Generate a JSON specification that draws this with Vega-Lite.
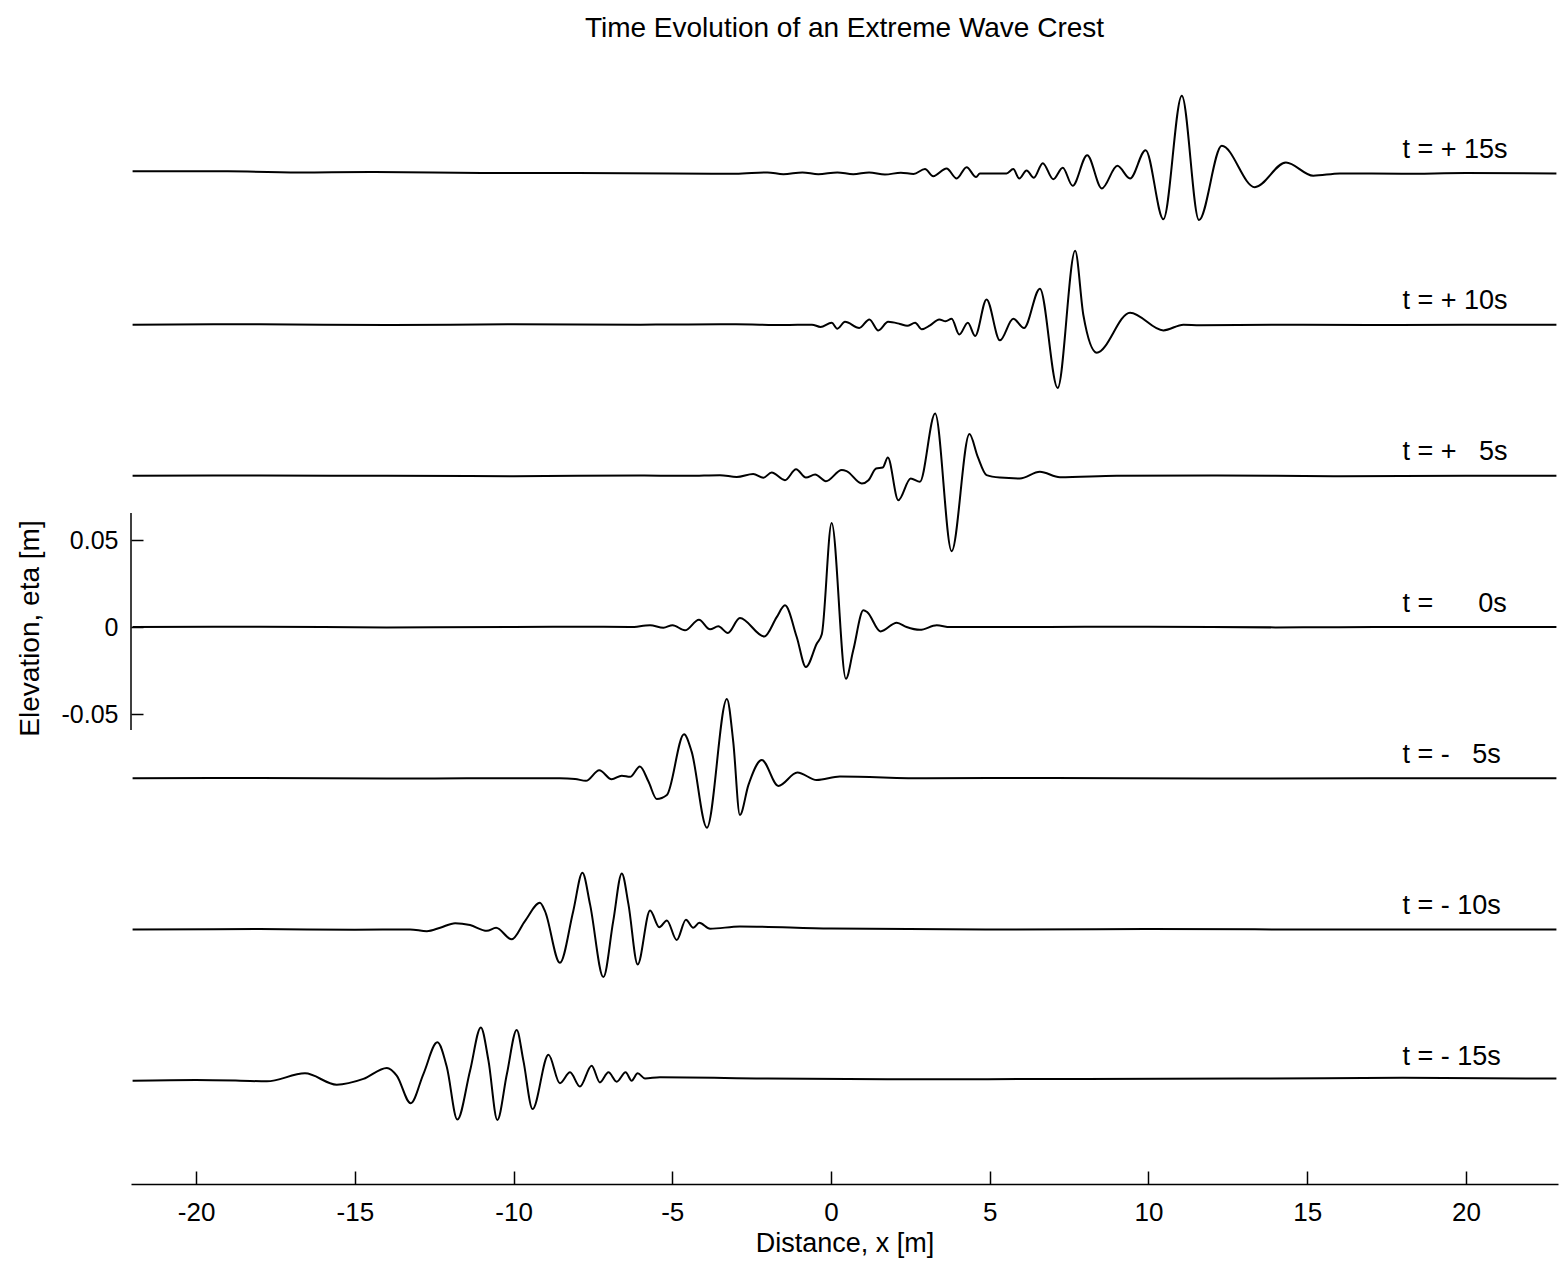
{
  "$schema": "https://vega.github.io/schema/vega-lite/v6.json",
  "width": 1427,
  "height": 1124,
  "autosize": {"type": "none"},
  "padding": {"left": 131, "top": 60, "right": 6, "bottom": 79},
  "background": "white",
  "title": {"text": "Time Evolution of an Extreme Wave Crest", "font": "Liberation Sans", "fontSize": 28, "fontWeight": "normal", "color": "black", "anchor": "middle", "offset": 17},
  "config": {"view": {"stroke": null}, "font": "Liberation Sans"},
  "datasets": {
    "waves": [
      {"t":15,"x":-22.0,"eta":0.0012},{"t":15,"x":-19.0,"eta":0.0012},{"t":15,"x":-16.5,"eta":0.0006},{"t":15,"x":-14.5,"eta":0.0008},{"t":15,"x":-11.0,"eta":0.0003},{"t":15,"x":-8.0,"eta":0.0002},{"t":15,"x":-5.0,"eta":0.0},{"t":15,"x":-3.0,"eta":-0.0002},{"t":15,"x":-2.0,"eta":0.0006},{"t":15,"x":-1.5,"eta":-0.0004},{"t":15,"x":-0.9,"eta":0.0006},{"t":15,"x":-0.4,"eta":-0.0004},{"t":15,"x":0.2,"eta":0.0006},{"t":15,"x":0.7,"eta":-0.0005},{"t":15,"x":1.2,"eta":0.0006},{"t":15,"x":1.7,"eta":-0.0006},{"t":15,"x":2.2,"eta":0.0004},{"t":15,"x":2.6,"eta":-0.0003},
      {"t":15,"x":2.96,"eta":0.0025},{"t":15,"x":3.22,"eta":-0.0016},{"t":15,"x":3.64,"eta":0.0029},{"t":15,"x":3.96,"eta":-0.0029},{"t":15,"x":4.27,"eta":0.0036},{"t":15,"x":4.57,"eta":-0.0021},{"t":15,"x":4.69,"eta":0.0},{"t":15,"x":5.53,"eta":0.0},{"t":15,"x":5.74,"eta":0.0025},{"t":15,"x":5.93,"eta":-0.0029},{"t":15,"x":6.16,"eta":0.0017},{"t":15,"x":6.39,"eta":-0.0025},{"t":15,"x":6.67,"eta":0.0059},{"t":15,"x":7.0,"eta":-0.0033},{"t":15,"x":7.3,"eta":0.0033},{"t":15,"x":7.61,"eta":-0.0071},{"t":15,"x":8.07,"eta":0.0105},{"t":15,"x":8.53,"eta":-0.0086},{"t":15,"x":9.02,"eta":0.0044},{"t":15,"x":9.42,"eta":-0.0029},{"t":15,"x":9.91,"eta":0.0134},{"t":15,"x":10.47,"eta":-0.0263},{"t":15,"x":11.05,"eta":0.0447},{"t":15,"x":11.59,"eta":-0.0268},{"t":15,"x":12.31,"eta":0.0159},{"t":15,"x":13.35,"eta":-0.0079},{"t":15,"x":14.33,"eta":0.0063},{"t":15,"x":15.19,"eta":-0.0013},{"t":15,"x":16.03,"eta":0.0},{"t":15,"x":18.0,"eta":-0.0002},{"t":15,"x":20.0,"eta":0.0002},{"t":15,"x":22.85,"eta":0.0},

      {"t":10,"x":-22.0,"eta":0.0},{"t":10,"x":-18.0,"eta":0.0002},{"t":10,"x":-14.0,"eta":-0.0002},{"t":10,"x":-10.0,"eta":0.0002},{"t":10,"x":-6.0,"eta":0.0},{"t":10,"x":-3.0,"eta":0.0002},{"t":10,"x":-1.5,"eta":-0.0002},{"t":10,"x":-0.6,"eta":0.0},{"t":10,"x":-0.33,"eta":-0.0013},{"t":10,"x":0.02,"eta":0.0011},{"t":10,"x":0.2,"eta":-0.0023},{"t":10,"x":0.44,"eta":0.0016},{"t":10,"x":0.89,"eta":-0.0019},{"t":10,"x":1.21,"eta":0.003},{"t":10,"x":1.49,"eta":-0.0033},{"t":10,"x":1.8,"eta":0.0016},{"t":10,"x":2.17,"eta":0.0004},{"t":10,"x":2.4,"eta":-0.0007},{"t":10,"x":2.65,"eta":0.0011},{"t":10,"x":2.86,"eta":-0.0027},{"t":10,"x":3.12,"eta":-0.0004},{"t":10,"x":3.41,"eta":0.003},{"t":10,"x":3.61,"eta":0.0019},{"t":10,"x":3.8,"eta":0.0034},{"t":10,"x":4.04,"eta":-0.0057},{"t":10,"x":4.31,"eta":0.0011},{"t":10,"x":4.54,"eta":-0.0065},{"t":10,"x":4.9,"eta":0.0145},{"t":10,"x":5.32,"eta":-0.009},{"t":10,"x":5.74,"eta":0.0034},{"t":10,"x":6.08,"eta":-0.0019},{"t":10,"x":6.58,"eta":0.0207},{"t":10,"x":7.14,"eta":-0.0364},{"t":10,"x":7.69,"eta":0.0424},{"t":10,"x":7.95,"eta":0.0054},{"t":10,"x":8.37,"eta":-0.0161},{"t":10,"x":9.42,"eta":0.0069},{"t":10,"x":10.47,"eta":-0.0033},{"t":10,"x":11.1,"eta":0.0},{"t":10,"x":11.62,"eta":-0.0004},{"t":10,"x":14.0,"eta":0.0},{"t":10,"x":17.0,"eta":-0.0002},{"t":10,"x":20.0,"eta":0.0},{"t":10,"x":22.85,"eta":0.0},

      {"t":5,"x":-22.0,"eta":0.0},{"t":5,"x":-18.0,"eta":0.0002},{"t":5,"x":-14.0,"eta":0.0},{"t":5,"x":-10.0,"eta":-0.0002},{"t":5,"x":-6.0,"eta":0.0002},{"t":5,"x":-4.5,"eta":0.0},{"t":5,"x":-3.5,"eta":0.0004},{"t":5,"x":-2.97,"eta":-0.0006},{"t":5,"x":-2.45,"eta":0.0011},{"t":5,"x":-2.13,"eta":-0.0011},{"t":5,"x":-1.87,"eta":0.0019},{"t":5,"x":-1.45,"eta":-0.0025},{"t":5,"x":-1.1,"eta":0.0038},{"t":5,"x":-0.79,"eta":-0.001},{"t":5,"x":-0.5,"eta":0.0008},{"t":5,"x":-0.16,"eta":-0.0031},{"t":5,"x":0.34,"eta":0.0033},{"t":5,"x":0.49,"eta":0.0027},{"t":5,"x":0.97,"eta":-0.0044},{"t":5,"x":1.18,"eta":-0.0025},{"t":5,"x":1.42,"eta":0.0042},{"t":5,"x":1.63,"eta":0.0048},{"t":5,"x":1.79,"eta":0.0105},{"t":5,"x":2.12,"eta":-0.014},{"t":5,"x":2.51,"eta":-0.0015},{"t":5,"x":2.8,"eta":-0.0034},{"t":5,"x":3.28,"eta":0.0358},{"t":5,"x":3.8,"eta":-0.0433},{"t":5,"x":4.36,"eta":0.024},{"t":5,"x":4.62,"eta":0.011},{"t":5,"x":4.9,"eta":0.0004},{"t":5,"x":5.32,"eta":-0.001},{"t":5,"x":5.95,"eta":-0.0015},{"t":5,"x":6.58,"eta":0.0023},{"t":5,"x":7.21,"eta":-0.0008},{"t":5,"x":9.0,"eta":0.0},{"t":5,"x":12.0,"eta":0.0002},{"t":5,"x":16.0,"eta":-0.0002},{"t":5,"x":20.0,"eta":0.0},{"t":5,"x":22.85,"eta":0.0},

      {"t":0,"x":-22.0,"eta":0.0},{"t":0,"x":-18.0,"eta":0.0002},{"t":0,"x":-14.0,"eta":-0.0002},{"t":0,"x":-10.0,"eta":0.0},{"t":0,"x":-8.0,"eta":0.0002},{"t":0,"x":-6.33,"eta":0.0},{"t":0,"x":-5.7,"eta":0.001},{"t":0,"x":-5.28,"eta":-0.0004},{"t":0,"x":-4.99,"eta":0.0011},{"t":0,"x":-4.6,"eta":-0.0019},{"t":0,"x":-4.16,"eta":0.0042},{"t":0,"x":-3.81,"eta":-0.0013},{"t":0,"x":-3.55,"eta":0.0004},{"t":0,"x":-3.25,"eta":-0.0034},{"t":0,"x":-2.87,"eta":0.0052},{"t":0,"x":-2.1,"eta":-0.0054},{"t":0,"x":-1.71,"eta":0.0057},{"t":0,"x":-1.45,"eta":0.0125},{"t":0,"x":-1.08,"eta":-0.0057},{"t":0,"x":-0.79,"eta":-0.023},{"t":0,"x":-0.45,"eta":-0.0096},{"t":0,"x":-0.29,"eta":-0.0042},{"t":0,"x":0.02,"eta":0.0598},{"t":0,"x":0.47,"eta":-0.0297},{"t":0,"x":0.7,"eta":-0.0134},{"t":0,"x":1.02,"eta":0.0096},{"t":0,"x":1.14,"eta":0.0086},{"t":0,"x":1.56,"eta":-0.0025},{"t":0,"x":2.07,"eta":0.0025},{"t":0,"x":2.38,"eta":0.0},{"t":0,"x":2.8,"eta":-0.0016},{"t":0,"x":3.33,"eta":0.001},{"t":0,"x":3.75,"eta":0.0},{"t":0,"x":6.0,"eta":0.0},{"t":0,"x":10.0,"eta":0.0002},{"t":0,"x":14.0,"eta":-0.0002},{"t":0,"x":18.0,"eta":0.0},{"t":0,"x":22.85,"eta":0.0},

      {"t":-5,"x":-22.0,"eta":0.0},{"t":-5,"x":-18.0,"eta":0.0002},{"t":-5,"x":-14.0,"eta":-0.0002},{"t":-5,"x":-11.0,"eta":0.0},{"t":-5,"x":-8.54,"eta":0.0},{"t":-5,"x":-8.06,"eta":-0.0004},{"t":-5,"x":-7.72,"eta":-0.0015},{"t":-5,"x":-7.3,"eta":0.0046},{"t":-5,"x":-6.91,"eta":-0.0006},{"t":-5,"x":-6.59,"eta":0.0015},{"t":-5,"x":-6.33,"eta":0.0008},{"t":-5,"x":-6.02,"eta":0.0067},{"t":-5,"x":-5.75,"eta":-0.0019},{"t":-5,"x":-5.49,"eta":-0.0119},{"t":-5,"x":-5.17,"eta":-0.0096},{"t":-5,"x":-4.63,"eta":0.0253},{"t":-5,"x":-4.39,"eta":0.0153},{"t":-5,"x":-3.91,"eta":-0.0284},{"t":-5,"x":-3.28,"eta":0.0456},{"t":-5,"x":-3.08,"eta":0.0211},{"t":-5,"x":-2.87,"eta":-0.0211},{"t":-5,"x":-2.6,"eta":-0.0038},{"t":-5,"x":-2.18,"eta":0.0105},{"t":-5,"x":-1.66,"eta":-0.0044},{"t":-5,"x":-1.06,"eta":0.0033},{"t":-5,"x":-0.45,"eta":-0.001},{"t":-5,"x":0.28,"eta":0.001},{"t":-5,"x":3.0,"eta":0.0},{"t":-5,"x":7.0,"eta":0.0002},{"t":-5,"x":12.0,"eta":-0.0002},{"t":-5,"x":17.0,"eta":0.0},{"t":-5,"x":22.85,"eta":0.0},

      {"t":-10,"x":-22.0,"eta":0.0},{"t":-10,"x":-18.0,"eta":0.0002},{"t":-10,"x":-15.0,"eta":-0.0002},{"t":-10,"x":-13.26,"eta":0.0},{"t":-10,"x":-12.73,"eta":-0.001},{"t":-10,"x":-12.31,"eta":0.001},{"t":-10,"x":-11.84,"eta":0.0036},{"t":-10,"x":-11.37,"eta":0.0025},{"t":-10,"x":-10.84,"eta":-0.0008},{"t":-10,"x":-10.55,"eta":0.001},{"t":-10,"x":-10.06,"eta":-0.0057},{"t":-10,"x":-9.64,"eta":0.0048},{"t":-10,"x":-9.17,"eta":0.0153},{"t":-10,"x":-9.01,"eta":0.0105},{"t":-10,"x":-8.54,"eta":-0.0192},{"t":-10,"x":-8.12,"eta":0.0105},{"t":-10,"x":-7.83,"eta":0.0326},{"t":-10,"x":-7.59,"eta":0.0144},{"t":-10,"x":-7.17,"eta":-0.0274},{"t":-10,"x":-6.86,"eta":0.0048},{"t":-10,"x":-6.59,"eta":0.0322},{"t":-10,"x":-6.38,"eta":0.0144},{"t":-10,"x":-6.09,"eta":-0.0201},{"t":-10,"x":-5.7,"eta":0.0109},{"t":-10,"x":-5.41,"eta":0.0013},{"t":-10,"x":-5.17,"eta":0.0052},{"t":-10,"x":-4.86,"eta":-0.0061},{"t":-10,"x":-4.57,"eta":0.0056},{"t":-10,"x":-4.34,"eta":0.001},{"t":-10,"x":-4.15,"eta":0.0038},{"t":-10,"x":-3.81,"eta":0.0004},{"t":-10,"x":-2.87,"eta":0.0017},{"t":-10,"x":0.0,"eta":0.0005},{"t":-10,"x":5.0,"eta":0.0},{"t":-10,"x":10.0,"eta":0.0002},{"t":-10,"x":15.0,"eta":0.0},{"t":-10,"x":22.85,"eta":0.0},

      {"t":-15,"x":-22.0,"eta":0.0},{"t":-15,"x":-20.0,"eta":0.0004},{"t":-15,"x":-18.61,"eta":0.0},{"t":-15,"x":-17.77,"eta":-0.0004},{"t":-15,"x":-16.57,"eta":0.0042},{"t":-15,"x":-15.57,"eta":-0.0023},{"t":-15,"x":-14.73,"eta":0.001},{"t":-15,"x":-13.99,"eta":0.0073},{"t":-15,"x":-13.68,"eta":0.0029},{"t":-15,"x":-13.24,"eta":-0.013},{"t":-15,"x":-12.84,"eta":0.0038},{"t":-15,"x":-12.4,"eta":0.022},{"t":-15,"x":-12.1,"eta":0.0077},{"t":-15,"x":-11.77,"eta":-0.0224},{"t":-15,"x":-11.37,"eta":0.0057},{"t":-15,"x":-11.03,"eta":0.0306},{"t":-15,"x":-10.79,"eta":0.0115},{"t":-15,"x":-10.51,"eta":-0.0226},{"t":-15,"x":-10.21,"eta":0.0038},{"t":-15,"x":-9.9,"eta":0.0291},{"t":-15,"x":-9.69,"eta":0.0115},{"t":-15,"x":-9.4,"eta":-0.0163},{"t":-15,"x":-8.9,"eta":0.0149},{"t":-15,"x":-8.54,"eta":-0.0015},{"t":-15,"x":-8.22,"eta":0.0048},{"t":-15,"x":-7.91,"eta":-0.0034},{"t":-15,"x":-7.54,"eta":0.0086},{"t":-15,"x":-7.28,"eta":-0.001},{"t":-15,"x":-7.01,"eta":0.0048},{"t":-15,"x":-6.75,"eta":-0.0006},{"t":-15,"x":-6.47,"eta":0.0048},{"t":-15,"x":-6.28,"eta":0.0},{"t":-15,"x":-6.09,"eta":0.0042},{"t":-15,"x":-5.86,"eta":0.0013},{"t":-15,"x":-5.39,"eta":0.0019},{"t":-15,"x":-2.0,"eta":0.0012},{"t":-15,"x":3.0,"eta":0.0008},{"t":-15,"x":8.0,"eta":0.001},{"t":-15,"x":13.0,"eta":0.0012},{"t":-15,"x":18.0,"eta":0.0016},{"t":-15,"x":22.85,"eta":0.0012}
    ],
    "labels": [
      {"t":15,"label":"t = + 15s"},
      {"t":10,"label":"t = + 10s"},
      {"t":5,"label":"t = +\u00a0\u00a0\u00a05s"},
      {"t":0,"label":"t =\u00a0\u00a0\u00a0\u00a0\u00a0\u00a00s"},
      {"t":-5,"label":"t = -\u00a0\u00a0\u00a05s"},
      {"t":-10,"label":"t = - 10s"},
      {"t":-15,"label":"t = - 15s"}
    ]
  },
  "layer": [
    {
      "data": {"name": "waves"},
      "transform": [{"calculate": "datum.eta + datum.t * 0.01738", "as": "y"}],
      "mark": {"type": "line", "color": "black", "strokeWidth": 2, "interpolate": "monotone"},
      "encoding": {
        "x": {
          "field": "x", "type": "quantitative",
          "scale": {"domain": [-22.05, 22.9], "nice": false, "zero": false},
          "axis": {
            "values": [-20, -15, -10, -5, 0, 5, 10, 15, 20],
            "labelExpr": "datum.value < 0 ? '-' + abs(datum.value) : '' + datum.value",
            "title": "Distance, x [m]",
            "titleFont": "Liberation Sans", "titleFontSize": 27, "titleFontWeight": "normal", "titleColor": "black", "titlePadding": 5,
            "labelFont": "Liberation Sans", "labelFontSize": 26, "labelColor": "black", "labelPadding": 28, "labelOverlap": false, "labelFlush": false,
            "tickSize": -13, "tickColor": "black", "tickWidth": 1.5,
            "domainColor": "black", "domainWidth": 1.5, "grid": false
          }
        },
        "y": {
          "field": "y", "type": "quantitative",
          "scale": {"domain": [-0.3201, 0.3259], "nice": false, "zero": false},
          "axis": {
            "values": [-0.05, 0, 0.05],
            "labelExpr": "datum.value == 0 ? '0' : (datum.value < 0 ? '-' : '') + format(abs(datum.value), '.2f')",
            "title": "Elevation, eta [m]",
            "titleFont": "Liberation Sans", "titleFontSize": 28, "titleFontWeight": "normal", "titleColor": "black",
            "titleAngle": -90, "titleBaseline": "middle", "titleAlign": "center", "titleX": -101, "titleY": 568,
            "labelFont": "Liberation Sans", "labelFontSize": 25, "labelColor": "black", "labelPadding": 25, "labelOverlap": false, "labelFlush": false,
            "tickSize": -12, "tickColor": "black", "tickWidth": 1.5,
            "domain": false, "grid": false
          }
        },
        "detail": {"field": "t", "type": "nominal"}
      }
    },
    {
      "data": {"name": "labels"},
      "transform": [{"calculate": "datum.t * 0.01738 + 0.0135", "as": "ly"}],
      "mark": {"type": "text", "align": "left", "baseline": "middle", "font": "Liberation Sans", "fontSize": 27, "color": "black"},
      "encoding": {
        "x": {"datum": 18.0, "type": "quantitative"},
        "y": {"field": "ly", "type": "quantitative"},
        "text": {"field": "label"}
      }
    },
    {
      "data": {"values": [{}]},
      "mark": {"type": "rule", "color": "black", "strokeWidth": 1.5},
      "encoding": {
        "x": {"datum": -22.05, "type": "quantitative"},
        "y": {"datum": -0.0592, "type": "quantitative"},
        "y2": {"datum": 0.0655}
      }
    }
  ]
}
